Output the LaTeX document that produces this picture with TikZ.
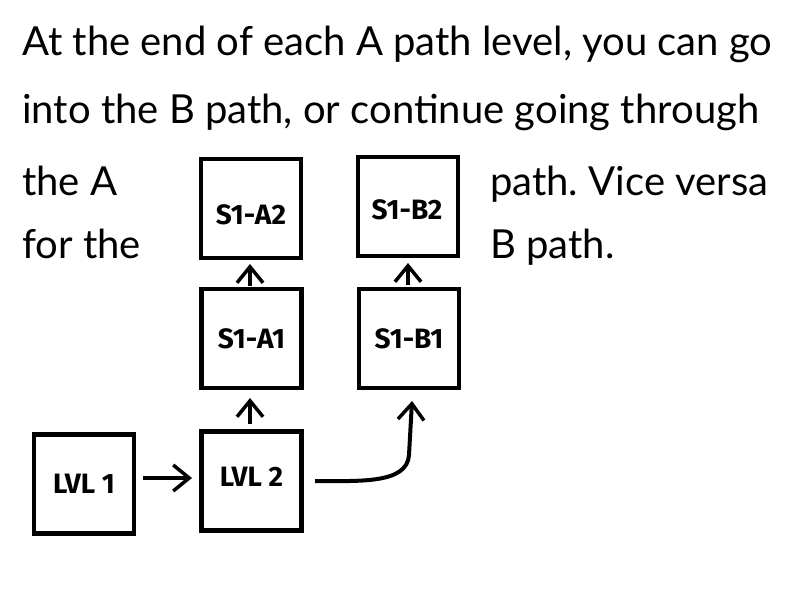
\documentclass[tikz,border=0pt]{standalone}
\usepackage{fontspec}
\setmainfont{Lato}
\newfontfamily\boxfont{Fira Sans}
\usetikzlibrary{arrows.meta}
\frenchspacing
\begin{document}
\begin{tikzpicture}[x=1pt,y=-1pt,
  lvlbox/.style={draw=black,line width=4.5pt,minimum width=100pt,minimum height=99pt,inner sep=0pt,font=\boxfont\bfseries\fontsize{28}{32}\selectfont},
  blabel/.style={inner sep=0pt,font=\boxfont\bfseries\fontsize{28}{32}\selectfont},
  conn/.style={line width=4pt,-{Straight Barb[length=16pt,width=26pt,line width=3.5pt]}},
  txt/.style={anchor=base west,inner sep=0pt,font=\fontsize{40}{48}\selectfont}]
\useasboundingbox (0,0) rectangle (800,600);
\node[txt] (t1) at (22,55) {At the end of each A path level, you can go};
\node[txt] (t2) at (22,123) {into the B path, or continue going through};
\node[txt] (t3) at (22,195) {the A};
\node[txt] (t3b) at (490,195) {path. Vice versa};
\node[txt] (t4) at (22,258) {for the};
\node[txt] (t4b) at (490,258) {B path.};
\node[lvlbox] (l1) at (84,484) {};
\node[blabel] (l1t) at (84,484) {LVL 1};
\node[lvlbox] (l2) at (251.5,481) {};
\node[blabel] (l2t) at (251.5,477) {LVL 2};
\node[lvlbox] (a1) at (251.5,338.5) {S1-A1};
\node[lvlbox] (a2) at (251,208.5) {};
\node[blabel] (a2t) at (251,215) {S1-A2};
\node[lvlbox] (b1) at (409,338.5) {S1-B1};
\node[lvlbox] (b2) at (408,206.5) {};
\node[blabel] (b2t) at (407,210) {S1-B2};
\coordinate (s1) at (143,478);
\coordinate (e1) at (192,478);
\draw[conn] (s1) -- (e1);
\coordinate (s2) at (250,424);
\coordinate (e2) at (250,398);
\draw[conn] (s2) -- (e2);
\coordinate (s3) at (250,286);
\coordinate (e3) at (250,264);
\draw[conn] (s3) -- (e3);
\coordinate (s4) at (408,285);
\coordinate (e4) at (408,263);
\draw[conn] (s4) -- (e4);
\coordinate (s5) at (315,481);
\coordinate (e5) at (412,401);
\draw[conn] (s5) .. controls (360,481) and (407,484) .. (409,455) -- (e5);
\end{tikzpicture}
\end{document}
